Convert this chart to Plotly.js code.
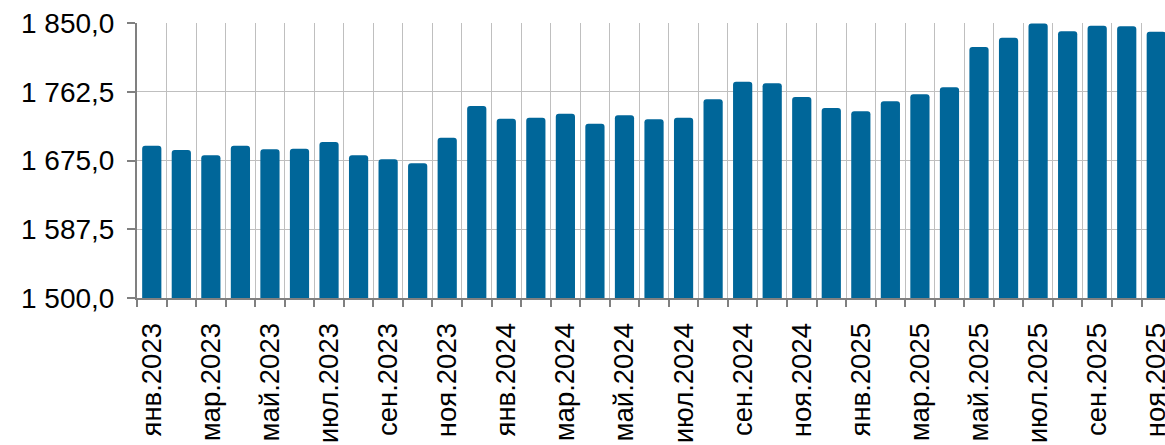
<!DOCTYPE html>
<html>
<head>
<meta charset="utf-8">
<script src="https://cdn.plot.ly/plotly-3.0.1.min.js"></script>
<style>
  html, body { margin: 0; padding: 0; background: #ffffff; overflow: hidden; }
  #chart { width: 1200px; height: 445px; }
</style>
</head>
<body>
<div id="chart"></div>
<script>
// Monthly series, Jan 2023 .. Nov 2025
const months = [
  "янв.2023","фев.2023","мар.2023","апр.2023","май.2023","июн.2023",
  "июл.2023","авг.2023","сен.2023","окт.2023","ноя.2023","дек.2023",
  "янв.2024","фев.2024","мар.2024","апр.2024","май.2024","июн.2024",
  "июл.2024","авг.2024","сен.2024","окт.2024","ноя.2024","дек.2024",
  "янв.2025","фев.2025","мар.2025","апр.2025","май.2025","июн.2025",
  "июл.2025","авг.2025","сен.2025","окт.2025","ноя.2025"
];
const values = [
  1693.8, 1688.4, 1681.6, 1693.8, 1689.2, 1690.1,
  1698.5, 1681.6, 1676.5, 1671.4, 1704.1, 1744.4,
  1728.2, 1729.5, 1734.6, 1721.9, 1732.5, 1727.4,
  1729.5, 1752.9, 1775.3, 1773.2, 1755.8, 1741.8,
  1737.6, 1750.3, 1759.2, 1768.1, 1819.5, 1831.3,
  1849.5, 1839.4, 1846.6, 1845.8, 1839.0
];
const yTicks = [1500, 1587.5, 1675, 1762.5, 1850];

const idx = months.map((_, i) => i);
// label every other month
const labelIdx = idx.filter(i => i % 2 === 0);
const labelText = labelIdx.map(i => months[i]);
// category boundaries for ticks and vertical grid
const bounds = idx.map(i => i - 0.5).concat([months.length - 0.5]);

const trace = {
  type: "bar",
  x: idx,
  y: values,
  base: 0,
  marker: { color: "#006699", cornerradius: 3, line: { width: 0 } },
  hoverinfo: "skip",
  cliponaxis: true
};

// the plot runs a little past the right edge of the visible page
const layout = {
  width: 1200,
  height: 445,
  margin: { l: 137, r: 0, t: 23, b: 147, pad: 0 },
  paper_bgcolor: "#ffffff",
  plot_bgcolor: "#ffffff",
  separators: ", ",
  showlegend: false,
  bargap: 0.35,
  font: { family: "Liberation Sans, Arial, sans-serif", size: 27, color: "#000000" },
  xaxis: {
    range: [-0.5, 35.48],
    tickmode: "array",
    tickvals: labelIdx,
    ticktext: labelText,
    tickangle: -90,
    ticks: "",
    showgrid: false,
    zeroline: false,
    showline: true,
    linecolor: "#808080",
    linewidth: 2,
    ticklabelstandoff: 12,
    ticklabeloverflow: "allow",
    tickfont: { size: 27.5 },
    minor: {
      tickmode: "array",
      tickvals: bounds,
      ticks: "outside",
      ticklen: 7,
      tickwidth: 2,
      tickcolor: "#808080",
      showgrid: true,
      gridcolor: "#bfbfbf",
      gridwidth: 1
    }
  },
  yaxis: {
    range: [1500, 1850],
    tickmode: "array",
    tickvals: yTicks,
    tickformat: ",.1f",
    ticks: "outside",
    ticklen: 8,
    tickwidth: 2,
    tickcolor: "#808080",
    showgrid: true,
    gridcolor: "#bfbfbf",
    gridwidth: 1,
    zeroline: false,
    showline: true,
    linecolor: "#808080",
    linewidth: 2,
    ticklabelstandoff: 7,
    tickfont: { size: 28 }
  }
};

Plotly.newPlot("chart", [trace], layout, { staticPlot: true, displayModeBar: false });
</script>
</body>
</html>
